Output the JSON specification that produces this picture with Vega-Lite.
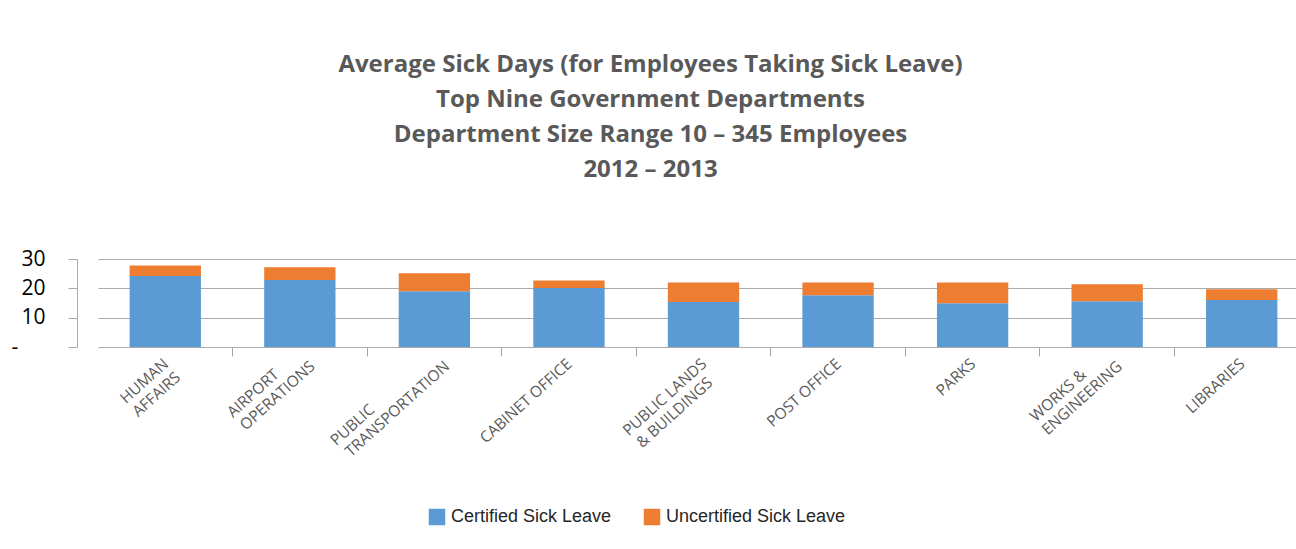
{
  "$schema": "https://vega.github.io/schema/vega-lite/v6.json",
  "width": 1219,
  "height": 88,
  "autosize": {"type": "none"},
  "padding": {"left": 77, "top": 259, "right": 0, "bottom": 202},
  "background": "white",
  "config": {"view": {"stroke": null}},
  "title": {
    "text": ["Average Sick Days (for Employees Taking Sick Leave)", "Top Nine Government Departments", "Department Size Range 10 – 345 Employees", "2012 – 2013"],
    "font": "Open Sans",
    "fontSize": 24,
    "fontWeight": "bold",
    "color": "#595959",
    "lineHeight": 35,
    "anchor": "middle",
    "dx": -36,
    "offset": 66
  },
  "data": {
    "values": [
      {"department": "HUMAN|AFFAIRS", "type": "Certified Sick Leave", "days": 24.2},
      {"department": "HUMAN|AFFAIRS", "type": "Uncertified Sick Leave", "days": 3.6},
      {"department": "AIRPORT|OPERATIONS", "type": "Certified Sick Leave", "days": 22.8},
      {"department": "AIRPORT|OPERATIONS", "type": "Uncertified Sick Leave", "days": 4.4},
      {"department": "PUBLIC|TRANSPORTATION", "type": "Certified Sick Leave", "days": 19.0},
      {"department": "PUBLIC|TRANSPORTATION", "type": "Uncertified Sick Leave", "days": 6.1},
      {"department": "CABINET OFFICE", "type": "Certified Sick Leave", "days": 20.1},
      {"department": "CABINET OFFICE", "type": "Uncertified Sick Leave", "days": 2.6},
      {"department": "PUBLIC LANDS|& BUILDINGS", "type": "Certified Sick Leave", "days": 15.3},
      {"department": "PUBLIC LANDS|& BUILDINGS", "type": "Uncertified Sick Leave", "days": 6.7},
      {"department": "POST OFFICE", "type": "Certified Sick Leave", "days": 17.6},
      {"department": "POST OFFICE", "type": "Uncertified Sick Leave", "days": 4.4},
      {"department": "PARKS", "type": "Certified Sick Leave", "days": 14.9},
      {"department": "PARKS", "type": "Uncertified Sick Leave", "days": 7.1},
      {"department": "WORKS &|ENGINEERING", "type": "Certified Sick Leave", "days": 15.6},
      {"department": "WORKS &|ENGINEERING", "type": "Uncertified Sick Leave", "days": 5.8},
      {"department": "LIBRARIES", "type": "Certified Sick Leave", "days": 16.0},
      {"department": "LIBRARIES", "type": "Uncertified Sick Leave", "days": 3.7}
    ]
  },
  "mark": {"type": "bar", "width": {"band": 0.53}},
  "encoding": {
    "x": {
      "field": "department",
      "type": "nominal",
      "sort": null,
      "scale": {"range": [21, 1232], "paddingInner": 0, "paddingOuter": 0},
      "axis": {
        "title": null,
        "domain": false,
        "grid": false,
        "ticks": true,
        "tickSize": 9,
        "tickColor": "#a6a6a6",
        "bandPosition": 0,
        "tickOpacity": {"condition": {"test": "datum.value == 'HUMAN|AFFAIRS'", "value": 0}, "value": 1},
        "labelAngle": -42,
        "labelAlign": "right",
        "labelBaseline": "top",
        "labelOffset": -4,
        "labelPadding": {"condition": {"test": "datum.value == 'AIRPORT|OPERATIONS' || datum.value == 'PUBLIC|TRANSPORTATION' || datum.value == 'WORKS &|ENGINEERING'", "value": -11}, "value": 0},
        "labelFont": "Open Sans",
        "labelFontSize": 15.5,
        "labelColor": "#595959",
        "labelLineHeight": 18,
        "labelLimit": 300,
        "labelOverlap": false,
        "labelExpr": "datum.value == 'AIRPORT|OPERATIONS' ? ['AIRPORT\\u00a0\\u00a0\\u00a0\\u00a0\\u00a0\\u00a0\\u00a0\\u00a0\\u200b', 'OPERATIONS'] : datum.value == 'PUBLIC|TRANSPORTATION' ? ['PUBLIC\\u00a0\\u00a0\\u00a0\\u00a0\\u00a0\\u00a0\\u00a0\\u00a0\\u00a0\\u00a0\\u00a0\\u00a0\\u00a0\\u00a0\\u00a0\\u00a0\\u00a0\\u00a0\\u00a0\\u00a0\\u00a0\\u200b', 'TRANSPORTATION'] : datum.value == 'PUBLIC LANDS|& BUILDINGS' ? ['PUBLIC LANDS', '& BUILDINGS\\u00a0\\u00a0\\u200b'] : datum.value == 'WORKS &|ENGINEERING' ? ['WORKS &\\u00a0\\u00a0\\u00a0\\u00a0\\u00a0\\u00a0\\u00a0\\u00a0\\u200b', 'ENGINEERING'] : split(datum.value, '|')"
      }
    },
    "y": {
      "field": "days",
      "type": "quantitative",
      "stack": "zero",
      "scale": {"domain": [0, 30], "nice": false},
      "axis": {
        "title": null,
        "values": [0, 10, 20, 30],
        "grid": true,
        "gridColor": "#ababab",
        "domain": true,
        "domainColor": "#ababab",
        "ticks": true,
        "tickSize": 9,
        "tickColor": "#ababab",
        "labelPadding": 23,
        "labelFont": "Open Sans",
        "labelFontSize": 21,
        "labelColor": "#000000",
        "labelExpr": "datum.value == 0 ? '-\\u00a0\\u00a0\\u00a0\\u00a0\\u00a0\\u200b' : datum.label"
      }
    },
    "color": {
      "field": "type",
      "type": "nominal",
      "scale": {"domain": ["Certified Sick Leave", "Uncertified Sick Leave"], "range": ["#5B9BD5", "#ED7D31"]},
      "legend": {
        "orient": "none",
        "legendX": 351,
        "legendY": 249,
        "direction": "horizontal",
        "title": null,
        "symbolType": "square",
        "symbolSize": 272,
        "symbolStrokeWidth": 0,
        "symbolOpacity": 1,
        "labelFont": "Liberation Sans",
        "labelFontSize": 18,
        "labelColor": "#262626",
        "labelOffset": 5,
        "labelLimit": 400,
        "columnPadding": 31,
        "padding": 0
      }
    },
    "order": {"field": "type", "sort": "ascending"}
  }
}
